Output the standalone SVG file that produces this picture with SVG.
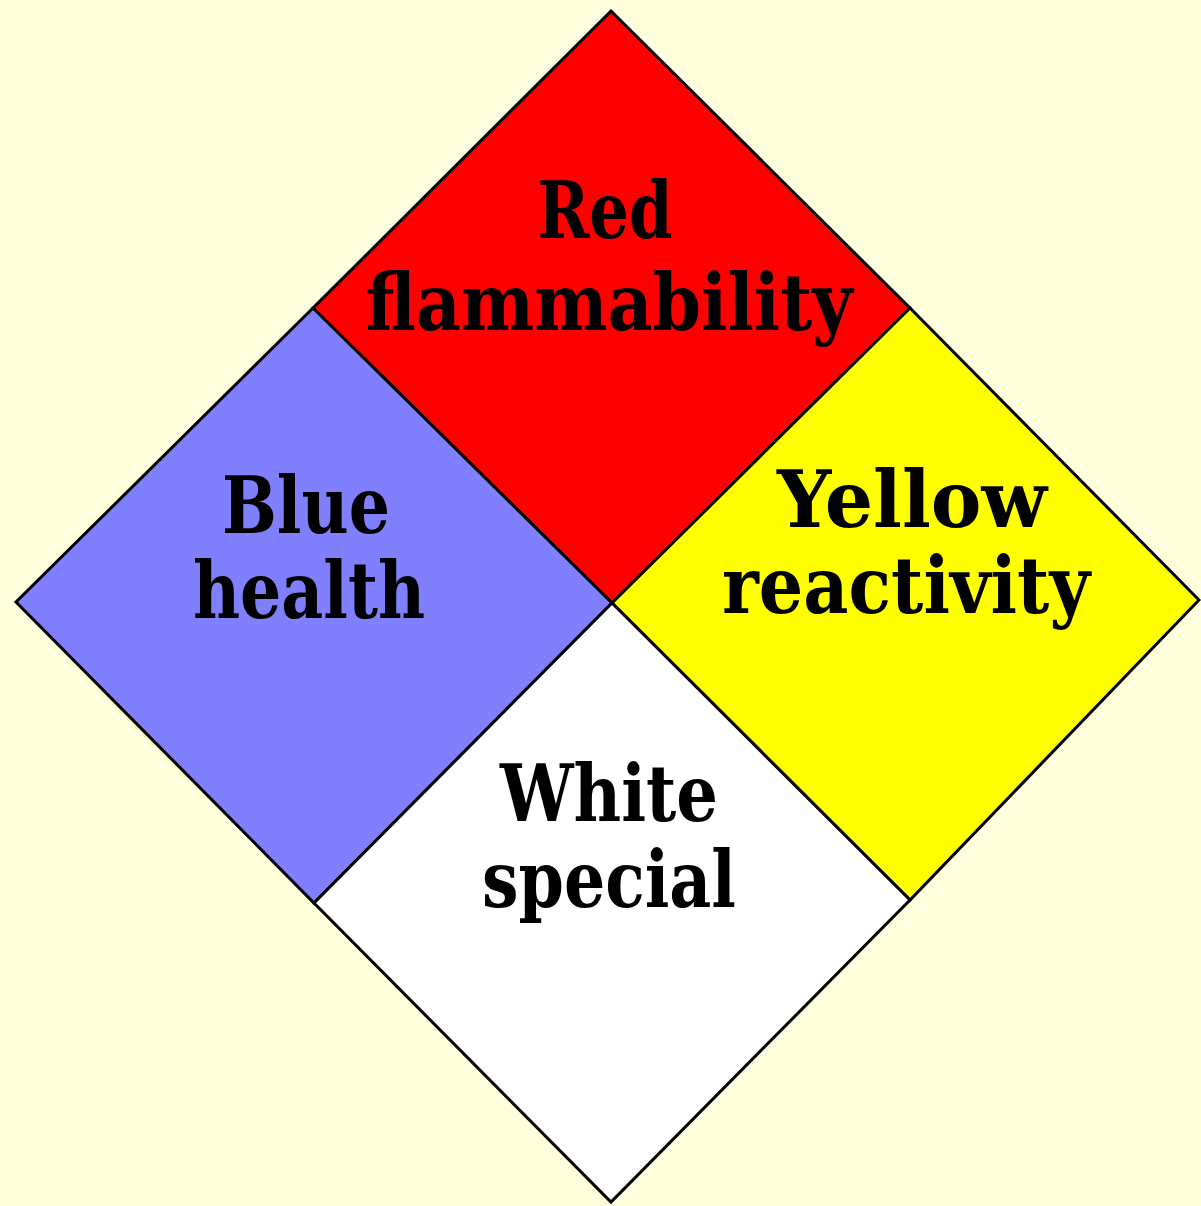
<svg xmlns="http://www.w3.org/2000/svg" width="1201" height="1206" viewBox="0 0 1201 1206">
<style>
.q{stroke:#000;stroke-width:3;stroke-linejoin:miter}
.t{font-family:"DejaVu Serif","Liberation Serif",serif;font-weight:bold;font-size:78px;fill:#000;text-anchor:middle}
</style>
<rect width="1201" height="1206" fill="#FFFFDD"/>
<g id="red"><polygon class="q" fill="#FF0000" points="611,11 910,308 612,603 313,308"/>
<text class="t" x="605" y="238" textLength="135" lengthAdjust="spacingAndGlyphs">Red</text>
<text class="t" x="609" y="330" textLength="487" lengthAdjust="spacingAndGlyphs">flammability</text></g>
<g id="blue"><polygon class="q" fill="#8080FF" points="313,308 612,603 314,903 16,602"/>
<text class="t" x="306" y="533" textLength="168" lengthAdjust="spacingAndGlyphs">Blue</text>
<text class="t" x="309" y="618" textLength="232" lengthAdjust="spacingAndGlyphs">health</text></g>
<g id="yellow"><polygon class="q" fill="#FFFF00" points="910,308 1199,600 910,900 612,603"/>
<text class="t" x="912" y="527" textLength="270" lengthAdjust="spacingAndGlyphs">Yellow</text>
<text class="t" x="906" y="613" textLength="368" lengthAdjust="spacingAndGlyphs">reactivity</text></g>
<g id="white"><polygon class="q" fill="#FFFFFF" points="612,603 910,900 611,1202 314,903"/>
<text class="t" x="609" y="821" textLength="218" lengthAdjust="spacingAndGlyphs">White</text>
<text class="t" x="609" y="907" textLength="254" lengthAdjust="spacingAndGlyphs">special</text></g>
<g id="connectors"></g>
</svg>
